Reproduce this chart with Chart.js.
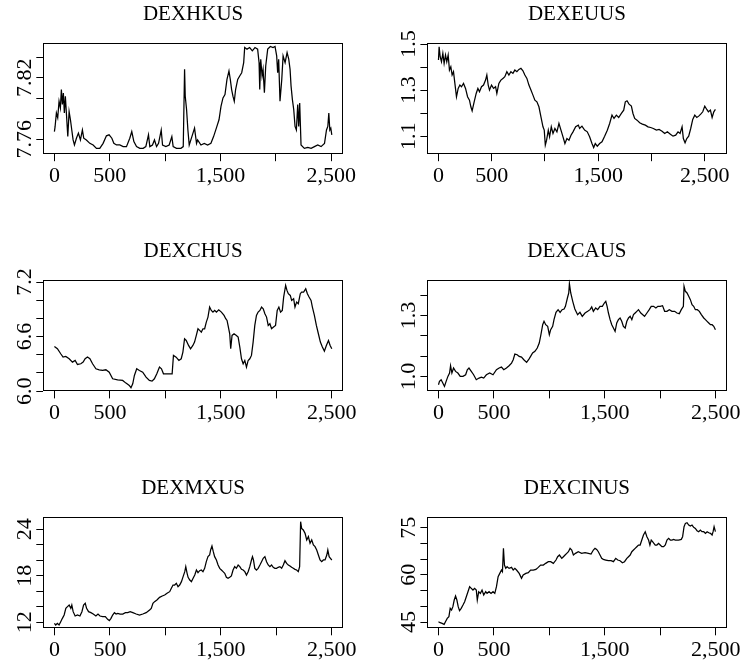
<!DOCTYPE html>
<html>
<head>
<meta charset="utf-8">
<script src="https://cdn.jsdelivr.net/npm/chart.js@4.4.1/dist/chart.umd.min.js"></script>
<style>
  html, body { margin: 0; padding: 0; background: #fff; }
  body { width: 745px; height: 662px; position: relative; overflow: hidden; }
  canvas { position: absolute; }
</style>
</head>
<body>
<script>
const hkIdx = [0,6,18,30,42,54,63,72,81,90,99,112,121,133,145,157,169,181,199,217,235,253,265,289,320,350,380,410,440,470,494,519,537,561,591,621,651,681,699,718,742,772,802,826,850,862,886,904,923,941,965,977,1007,1037,1061,1073,1103,1143,1164,1176,1182,1194,1206,1218,1242,1266,1284,1294,1324,1354,1384,1414,1438,1463,1487,1505,1523,1541,1559,1577,1589,1601,1613,1625,1637,1656,1674,1692,1710,1719,1740,1764,1788,1812,1836,1849,1855,1864,1876,1885,1897,1909,1927,1951,1975,1993,2008,2017,2026,2038,2054,2066,2084,2102,2117,2129,2138,2150,2162,2174,2186,2198,2207,2216,2228,2258,2289,2319,2349,2379,2409,2440,2458,2470,2479,2488,2497,2506];
const hkVal = [7.7675,7.772,7.7856,7.781,7.797,7.7905,7.8085,7.794,7.805,7.7856,7.802,7.779,7.7626,7.787,7.779,7.769,7.7593,7.7544,7.761,7.766,7.7593,7.769,7.761,7.7593,7.756,7.7544,7.7511,7.7511,7.756,7.7633,7.7643,7.761,7.756,7.7544,7.7544,7.7528,7.7528,7.761,7.7675,7.7577,7.7528,7.7511,7.7511,7.7528,7.7643,7.7528,7.7544,7.7593,7.7528,7.756,7.769,7.7544,7.7528,7.7544,7.7626,7.7528,7.7511,7.7511,7.7528,7.8282,7.802,7.789,7.769,7.7544,7.7626,7.7708,7.756,7.7593,7.7544,7.756,7.7544,7.756,7.7626,7.7708,7.779,7.7921,7.8003,7.8036,7.8184,7.8266,7.8184,7.8085,7.802,7.797,7.8085,7.8184,7.8217,7.8249,7.8348,7.8495,7.8479,7.8495,7.8463,7.8495,7.8479,7.8348,7.8085,7.8381,7.8217,7.8282,7.8053,7.8315,7.8479,7.8505,7.8495,7.8505,7.8413,7.8249,7.8381,7.797,7.8184,7.8413,7.8348,7.8446,7.8381,7.8282,7.8118,7.7987,7.789,7.7725,7.769,7.7938,7.7725,7.7954,7.7544,7.7511,7.7521,7.7511,7.7528,7.7544,7.7528,7.756,7.769,7.7725,7.7856,7.769,7.7708,7.7643];

const euIdx = [0,6,16,28,41,53,66,78,91,103,116,128,141,154,169,185,201,216,235,254,273,291,304,316,335,354,370,385,404,423,442,454,467,479,498,517,536,548,567,586,605,623,642,661,680,699,717,736,755,774,793,811,830,849,868,887,905,924,943,962,981,993,1003,1015,1031,1043,1059,1075,1093,1112,1131,1150,1169,1187,1206,1225,1244,1263,1288,1313,1325,1347,1372,1397,1419,1441,1457,1472,1491,1513,1535,1560,1585,1607,1629,1648,1670,1692,1717,1739,1754,1770,1789,1811,1826,1842,1864,1889,1914,1942,1967,1992,2017,2046,2071,2099,2124,2149,2177,2202,2227,2249,2268,2287,2299,2315,2331,2349,2368,2387,2406,2425,2443,2462,2481,2500,2519,2534,2553,2569,2585,2600];
const euVal = [1.4304,1.4883,1.4449,1.4231,1.4594,1.4159,1.4521,1.4231,1.4521,1.3869,1.4014,1.3652,1.3797,1.3289,1.271,1.3072,1.3217,1.3145,1.3289,1.3072,1.271,1.2565,1.2275,1.2101,1.2492,1.2855,1.3072,1.2927,1.3145,1.3217,1.3434,1.3652,1.3217,1.3,1.3217,1.3072,1.3145,1.2855,1.3289,1.3434,1.3507,1.3579,1.3797,1.3652,1.3797,1.3724,1.3869,1.3797,1.3898,1.3942,1.384,1.3652,1.3507,1.3217,1.3,1.2782,1.2565,1.2492,1.2275,1.184,1.1406,1.1261,1.0609,1.0826,1.1261,1.0971,1.1406,1.1116,1.1333,1.1188,1.1551,1.1261,1.0971,1.0681,1.0899,1.0826,1.1043,1.1188,1.1406,1.1478,1.1333,1.1435,1.1261,1.1188,1.0971,1.0681,1.0507,1.0681,1.0565,1.0681,1.0754,1.1,1.1261,1.1551,1.1913,1.1768,1.1913,1.1811,1.1985,1.213,1.2492,1.2536,1.2391,1.2304,1.1985,1.1768,1.1696,1.158,1.1522,1.1478,1.1406,1.1377,1.1333,1.1261,1.129,1.1217,1.1116,1.1188,1.1087,1.1,1.1043,1.1188,1.1116,1.1406,1.0899,1.071,1.0899,1.1,1.1333,1.1725,1.1913,1.1811,1.1869,1.1956,1.2058,1.2304,1.2159,1.2058,1.213,1.1811,1.2058,1.2159];

const chIdx = [0,27,57,78,103,133,163,187,208,238,259,277,298,320,344,374,404,434,464,494,525,570,615,645,675,690,706,721,742,766,796,826,856,880,901,923,947,965,983,1022,1061,1073,1097,1122,1143,1158,1173,1188,1209,1227,1248,1263,1279,1294,1309,1324,1339,1354,1369,1384,1399,1414,1429,1444,1460,1481,1505,1529,1544,1556,1565,1580,1589,1601,1619,1640,1656,1671,1686,1701,1716,1731,1746,1761,1776,1791,1806,1821,1836,1852,1867,1882,1897,1912,1927,1942,1957,1975,1993,2008,2023,2038,2054,2066,2084,2096,2108,2126,2138,2156,2168,2183,2198,2216,2228,2246,2265,2280,2295,2313,2325,2343,2361,2379,2397,2415,2433,2451,2470,2485,2500];
const chVal = [6.4918,6.4661,6.411,6.3743,6.3817,6.356,6.3193,6.3376,6.2936,6.3009,6.3193,6.356,6.3743,6.356,6.3009,6.2459,6.2349,6.2275,6.2349,6.2092,6.1358,6.1248,6.1174,6.0881,6.0624,6.0367,6.0807,6.1725,6.2459,6.2275,6.2092,6.1541,6.1174,6.1101,6.1358,6.1908,6.2642,6.2459,6.1908,6.1908,6.1908,6.3927,6.3743,6.3376,6.356,6.4294,6.5762,6.5578,6.5028,6.4661,6.5028,6.5395,6.6129,6.6863,6.6679,6.6496,6.6863,6.6863,6.7597,6.8147,6.9248,6.8881,6.8698,6.8881,6.8698,6.8955,6.8698,6.8331,6.7964,6.778,6.723,6.6312,6.4661,6.6129,6.6312,6.6129,6.5945,6.4844,6.356,6.3009,6.3376,6.2642,6.3376,6.356,6.3927,6.5395,6.723,6.8331,6.8698,6.8881,6.9248,6.9065,6.8514,6.8147,6.723,6.7413,6.6863,6.7046,6.723,6.8881,6.9248,6.8698,6.8881,7.0349,7.1634,7.1083,7.0716,7.0533,6.9982,7.0166,6.9248,6.9799,6.9615,7.0716,7.09,7.09,7.1267,7.0716,7.0349,6.9982,6.9248,6.8331,6.723,6.6312,6.5395,6.4844,6.4404,6.5028,6.5578,6.5028,6.4661];

const caIdx = [0,9,24,39,54,69,85,100,109,121,136,154,175,196,221,245,260,275,296,317,341,366,387,408,432,462,492,523,547,568,589,613,637,659,674,689,710,728,749,770,795,816,831,849,870,891,909,924,940,952,967,985,1000,1012,1030,1042,1060,1079,1097,1115,1133,1145,1163,1175,1181,1193,1211,1230,1255,1276,1297,1322,1346,1367,1382,1397,1418,1436,1457,1478,1496,1509,1521,1533,1548,1563,1578,1593,1608,1623,1638,1653,1668,1684,1699,1714,1729,1744,1759,1774,1789,1804,1825,1843,1859,1880,1901,1919,1940,1961,1979,2000,2021,2040,2061,2082,2106,2130,2151,2172,2190,2209,2215,2227,2242,2257,2272,2287,2302,2317,2335,2353,2371,2393,2408,2423,2438,2453,2468,2483,2498];
const caVal = [0.9589,0.9753,0.9835,0.9671,0.9506,0.9753,1.0,1.0165,1.0527,1.0165,1.0412,1.0247,1.0165,1.0,1.0,1.0082,1.0329,1.0412,1.0247,1.0082,0.9835,0.9918,0.9967,0.9918,1.0082,1.0165,1.0082,1.0329,1.0412,1.0461,1.0329,1.0412,1.0527,1.0658,1.0823,1.1103,1.107,1.0988,1.0955,1.0823,1.0691,1.0856,1.0988,1.1152,1.1235,1.1399,1.1646,1.2058,1.2551,1.2716,1.2551,1.2469,1.2058,1.2304,1.2469,1.2798,1.316,1.3292,1.316,1.3292,1.3325,1.3457,1.3868,1.4115,1.4576,1.4115,1.3704,1.3325,1.3045,1.316,1.2963,1.3127,1.321,1.3292,1.3424,1.321,1.3374,1.3292,1.3457,1.3457,1.3621,1.3704,1.3457,1.3127,1.2798,1.2551,1.2387,1.2222,1.2634,1.2798,1.2881,1.2716,1.2469,1.2387,1.2716,1.2881,1.2963,1.2798,1.3045,1.3127,1.321,1.3292,1.3127,1.3045,1.2963,1.3127,1.3292,1.3457,1.3457,1.3374,1.3457,1.3457,1.349,1.321,1.321,1.3292,1.321,1.321,1.3127,1.3094,1.3292,1.3457,1.4444,1.4197,1.4115,1.395,1.3786,1.3539,1.3457,1.3292,1.3292,1.321,1.3045,1.2881,1.2798,1.2716,1.2634,1.2551,1.2551,1.2469,1.2304];

const mxIdx = [0,12,27,42,57,72,88,103,118,133,148,157,169,187,208,230,248,263,278,290,308,329,350,374,393,411,435,459,480,495,510,525,541,556,571,592,616,640,661,683,707,737,767,797,827,858,873,888,903,924,948,972,994,1015,1039,1054,1069,1084,1099,1114,1129,1145,1160,1175,1184,1196,1205,1220,1235,1250,1265,1280,1294,1309,1324,1339,1354,1369,1384,1399,1408,1420,1432,1444,1460,1475,1490,1505,1520,1535,1550,1565,1580,1595,1610,1625,1640,1656,1671,1686,1701,1716,1731,1746,1761,1776,1785,1794,1806,1821,1836,1852,1867,1882,1897,1912,1927,1942,1957,1972,1987,2002,2017,2032,2048,2063,2078,2093,2108,2123,2138,2153,2168,2183,2198,2210,2219,2228,2243,2259,2274,2289,2304,2319,2334,2349,2364,2379,2394,2409,2424,2439,2455,2464,2476,2488,2500];
const mxVal = [11.871,11.656,11.871,11.656,12.086,12.516,12.946,13.806,14.021,14.237,13.806,14.237,13.376,12.817,12.946,12.817,13.376,14.237,14.452,13.806,13.376,13.247,13.075,12.817,13.075,12.817,12.731,12.731,12.387,12.215,12.516,12.946,13.247,13.075,13.161,13.075,13.075,13.247,13.247,13.376,13.247,13.075,12.946,13.075,13.247,13.591,13.806,14.452,14.667,14.882,15.226,15.398,15.527,15.742,15.957,16.387,16.817,16.817,17.032,16.602,16.817,17.247,17.892,18.538,19.183,18.323,17.806,17.462,17.247,17.677,18.107,18.753,18.408,18.667,18.753,18.538,18.968,19.828,20.473,20.688,21.333,21.849,21.118,20.473,20.043,19.398,18.968,18.753,18.538,18.323,17.806,17.677,17.806,17.978,18.753,19.183,18.968,19.398,19.183,18.839,18.753,18.538,18.107,18.538,19.183,20.043,20.473,20.043,18.968,18.753,18.968,19.398,19.828,20.258,20.473,19.828,19.398,19.183,19.398,19.097,18.968,18.968,19.097,19.183,18.968,19.398,19.957,19.613,19.398,19.269,19.097,18.968,18.839,18.753,18.538,19.183,24.989,24.129,23.914,23.484,22.624,23.054,22.194,22.624,21.978,21.763,21.333,20.688,20.043,19.828,20.043,20.043,20.688,21.333,20.473,20.258,20.043];

const inIdx = [0,15,33,51,63,79,94,106,118,130,142,154,166,178,190,205,221,236,251,266,281,296,311,326,341,350,363,378,393,408,426,438,456,474,492,508,523,538,553,568,577,586,595,607,619,637,659,674,689,704,728,749,764,788,810,831,855,879,900,921,946,967,991,1012,1036,1060,1075,1091,1112,1127,1142,1157,1172,1187,1202,1217,1236,1261,1291,1322,1352,1376,1397,1412,1427,1442,1457,1472,1487,1509,1533,1557,1578,1599,1617,1638,1659,1678,1699,1714,1729,1744,1759,1774,1789,1804,1819,1834,1849,1865,1880,1895,1907,1919,1931,1943,1955,1970,1985,2000,2015,2031,2046,2061,2076,2091,2106,2121,2136,2151,2166,2190,2202,2215,2227,2242,2257,2272,2287,2302,2317,2332,2347,2362,2377,2393,2408,2423,2438,2453,2468,2477,2486,2498];
const inVal = [45.106,44.788,44.576,44.258,45.106,46.166,46.696,49.346,48.816,49.876,51.996,53.268,51.996,49.876,48.604,49.346,50.406,51.466,53.056,54.646,56.236,55.706,55.176,55.706,55.176,51.996,54.646,54.116,55.176,53.586,54.646,54.116,54.646,54.116,54.646,54.116,56.236,59.416,60.476,61.536,61.006,68.426,63.126,62.066,62.596,62.066,62.384,61.536,62.066,61.536,60.476,58.886,59.946,60.476,60.688,61.536,61.536,61.748,62.384,63.126,63.126,63.656,64.186,64.186,63.656,64.716,65.776,66.306,65.246,65.776,66.306,66.836,67.366,68.426,67.896,66.306,66.836,67.366,66.836,67.048,66.836,66.624,67.896,68.426,68.108,67.366,66.306,65.246,64.928,64.716,64.504,64.504,64.186,65.246,64.716,64.504,63.868,64.186,65.246,65.776,66.306,67.366,67.896,68.426,68.956,69.486,69.486,71.076,72.666,73.726,72.136,71.076,69.486,71.076,70.546,70.016,69.486,69.486,70.016,69.486,68.956,68.956,69.486,71.076,71.606,71.076,71.076,71.288,71.076,71.076,71.076,71.288,72.136,75.316,76.376,76.588,75.846,75.528,75.846,75.104,74.786,74.044,73.726,74.256,73.726,73.726,73.196,73.726,73.408,73.196,72.666,73.726,75.316,73.726];

const titles = ['DEXHKUS', 'DEXEUUS', 'DEXCHUS', 'DEXCAUS', 'DEXMXUS', 'DEXCINUS'];

// axis ticks (all tick marks) and the ones that carry a label
const xTicks = [0, 500, 1000, 1500, 2000, 2500];
const xLabelled = [0, 500, 1500, 2500];
const yTicks = [
  [7.76, 7.78, 7.80, 7.82, 7.84],
  [1.1, 1.2, 1.3, 1.4, 1.5],
  [6.0, 6.2, 6.4, 6.6, 6.8, 7.0, 7.2],
  [1.0, 1.1, 1.2, 1.3, 1.4],
  [12, 14, 16, 18, 20, 22, 24],
  [45, 50, 55, 60, 65, 70, 75]
];
const yLabelled = [
  ['7.76', '7.82'],
  ['1.1', '1.3', '1.5'],
  ['6.0', '6.6', '7.2'],
  ['1.0', '1.3'],
  ['12', '18', '24'],
  ['45', '60', '75']
];
const yLimits = [[7.7454, 7.8542], [1.0217, 1.5057], [5.997, 7.226], [0.926, 1.477], [11.23, 25.63], [43.0, 78.5]];

// === Layout: plot boxes in page pixels [left, right] per column, [top, bottom] per row ===
const colX = [[43.3, 342.9], [427.4, 726.5]];
const rowY = [[42.7, 154.2], [279.7, 391.4], [516.7, 628.3]];

const series = [[hkIdx, hkVal], [euIdx, euVal], [chIdx, chVal], [caIdx, caVal], [mxIdx, mxVal], [inIdx, inVal]];

const FONT = '"Liberation Serif", "Times New Roman", serif';

// box around plot area, title and rotated y labels (R style)
const rPlotDecor = {
  id: 'rPlotDecor',
  afterDraw(chart) {
    const o = chart.options.plugins.rPlotDecor;
    const a = chart.chartArea;
    const ctx = chart.ctx;
    ctx.save();
    ctx.strokeStyle = '#000';
    ctx.lineWidth = 1;
    const l = Math.round(a.left) + 0.5, t = Math.round(a.top) + 0.5;
    const r = Math.round(a.right) - 0.5, b = Math.round(a.bottom) - 0.5;
    ctx.strokeRect(l, t, r - l, b - t);

    ctx.fillStyle = '#000';
    ctx.font = '21px ' + FONT;
    ctx.textAlign = 'center';
    ctx.textBaseline = 'middle';
    ctx.fillText(o.title, (a.left + a.right) / 2, a.top - 28.5);

    const ys = chart.scales.y;
    ctx.font = '22px ' + FONT;
    ctx.textBaseline = 'alphabetic';
    o.labels.forEach(lab => {
      const py = ys.getPixelForValue(parseFloat(lab));
      ctx.save();
      ctx.translate(a.left - 12, py);
      ctx.rotate(-Math.PI / 2);
      ctx.fillText(lab, 0, 0);
      ctx.restore();
    });
    ctx.restore();
  }
};

series.forEach(([idx, val], p) => {
  const [L, R] = colX[p % 2];
  const [T, B] = rowY[Math.floor(p / 2)];
  const cl = Math.floor(L) - 43;
  const ct = Math.floor(T) - 42;
  const cw = Math.ceil(R) + 32 - cl;
  const ch = Math.ceil(B) + 52 - ct;

  const canvas = document.createElement('canvas');
  canvas.width = cw;
  canvas.height = ch;
  canvas.style.left = cl + 'px';
  canvas.style.top = ct + 'px';
  canvas.style.width = cw + 'px';
  canvas.style.height = ch + 'px';
  document.body.appendChild(canvas);

  const n = idx[idx.length - 1];
  const points = idx.map((x, i) => ({ x: x, y: val[i] }));

  new Chart(canvas.getContext('2d'), {
    type: 'line',
    data: {
      datasets: [{
        data: points,
        borderColor: '#000',
        borderWidth: 1.25,
        pointRadius: 0,
        tension: 0,
        fill: false
      }]
    },
    options: {
      responsive: false,
      animation: false,
      devicePixelRatio: 1,
      layout: { padding: { left: 0, top: T - ct, right: cw - (R - cl), bottom: 0 } },
      plugins: {
        legend: { display: false },
        tooltip: { enabled: false },
        rPlotDecor: { title: titles[p], labels: yLabelled[p] }
      },
      scales: {
        x: {
          type: 'linear',
          min: -0.04 * n,
          max: 1.04 * n,
          afterBuildTicks: s => { s.ticks = xTicks.map(v => ({ value: v })); },
          afterFit: s => { s.height = ch - (B - ct); },
          border: { display: false },
          grid: { drawOnChartArea: false, drawTicks: true, tickLength: 7, tickColor: '#000', lineWidth: 1 },
          ticks: {
            autoSkip: false,
            maxRotation: 0,
            minRotation: 0,
            padding: 2,
            color: '#000',
            font: { family: FONT, size: 22 },
            callback: v => xLabelled.includes(v) ? v.toLocaleString('en-US') : ''
          }
        },
        y: {
          min: yLimits[p][0],
          max: yLimits[p][1],
          afterBuildTicks: s => { s.ticks = yTicks[p].map(v => ({ value: v })); },
          afterFit: s => { s.width = L - cl; },
          border: { display: false },
          grid: { drawOnChartArea: false, drawTicks: true, tickLength: 7, tickColor: '#000', lineWidth: 1 },
          ticks: { display: false }
        }
      }
    },
    plugins: [rPlotDecor]
  });
});
</script>
</body>
</html>
